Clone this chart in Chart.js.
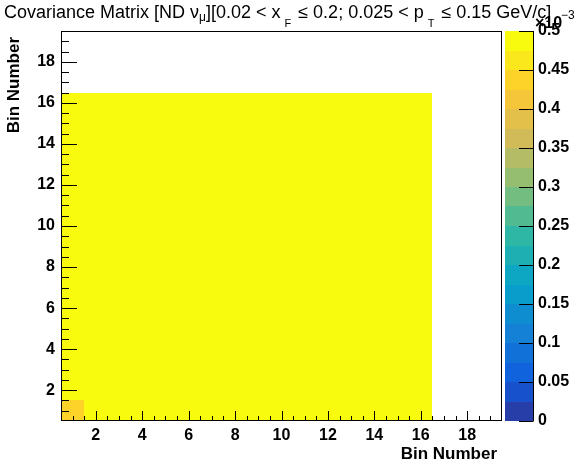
<!DOCTYPE html>
<html>
<head>
<meta charset="utf-8">
<script src="https://cdn.jsdelivr.net/npm/chart.js@4.4.0/dist/chart.umd.min.js"></script>
<style>
  html, body { margin: 0; padding: 0; background: #fff; }
  canvas { display: block; }
</style>
</head>
<body>
<canvas id="cov" width="578" height="466"></canvas>
<script>
// bin centres of the filled block
const xBins = [1, 2, 3, 4, 5, 6, 7, 8, 9, 10, 11, 12, 13, 14, 15, 16];
const yBins = [1, 2, 3, 4, 5, 6, 7, 8, 9, 10, 11, 12, 13, 14, 15, 16];

// covariance, units of 1e-3 ; row = y bin, column = x bin
const covRows = [
    [0.44, 0.50, 0.50, 0.50, 0.50, 0.50, 0.50, 0.50, 0.50, 0.50, 0.50, 0.50, 0.50, 0.50, 0.50, 0.50],
    [0.50, 0.50, 0.50, 0.50, 0.50, 0.50, 0.50, 0.50, 0.50, 0.50, 0.50, 0.50, 0.50, 0.50, 0.50, 0.50],
    [0.50, 0.50, 0.50, 0.50, 0.50, 0.50, 0.50, 0.50, 0.50, 0.50, 0.50, 0.50, 0.50, 0.50, 0.50, 0.50],
    [0.50, 0.50, 0.50, 0.50, 0.50, 0.50, 0.50, 0.50, 0.50, 0.50, 0.50, 0.50, 0.50, 0.50, 0.50, 0.50],
    [0.50, 0.50, 0.50, 0.50, 0.50, 0.50, 0.50, 0.50, 0.50, 0.50, 0.50, 0.50, 0.50, 0.50, 0.50, 0.50],
    [0.50, 0.50, 0.50, 0.50, 0.50, 0.50, 0.50, 0.50, 0.50, 0.50, 0.50, 0.50, 0.50, 0.50, 0.50, 0.50],
    [0.50, 0.50, 0.50, 0.50, 0.50, 0.50, 0.50, 0.50, 0.50, 0.50, 0.50, 0.50, 0.50, 0.50, 0.50, 0.50],
    [0.50, 0.50, 0.50, 0.50, 0.50, 0.50, 0.50, 0.50, 0.50, 0.50, 0.50, 0.50, 0.50, 0.50, 0.50, 0.50],
    [0.50, 0.50, 0.50, 0.50, 0.50, 0.50, 0.50, 0.50, 0.50, 0.50, 0.50, 0.50, 0.50, 0.50, 0.50, 0.50],
    [0.50, 0.50, 0.50, 0.50, 0.50, 0.50, 0.50, 0.50, 0.50, 0.50, 0.50, 0.50, 0.50, 0.50, 0.50, 0.50],
    [0.50, 0.50, 0.50, 0.50, 0.50, 0.50, 0.50, 0.50, 0.50, 0.50, 0.50, 0.50, 0.50, 0.50, 0.50, 0.50],
    [0.50, 0.50, 0.50, 0.50, 0.50, 0.50, 0.50, 0.50, 0.50, 0.50, 0.50, 0.50, 0.50, 0.50, 0.50, 0.50],
    [0.50, 0.50, 0.50, 0.50, 0.50, 0.50, 0.50, 0.50, 0.50, 0.50, 0.50, 0.50, 0.50, 0.50, 0.50, 0.50],
    [0.50, 0.50, 0.50, 0.50, 0.50, 0.50, 0.50, 0.50, 0.50, 0.50, 0.50, 0.50, 0.50, 0.50, 0.50, 0.50],
    [0.50, 0.50, 0.50, 0.50, 0.50, 0.50, 0.50, 0.50, 0.50, 0.50, 0.50, 0.50, 0.50, 0.50, 0.50, 0.50],
    [0.50, 0.50, 0.50, 0.50, 0.50, 0.50, 0.50, 0.50, 0.50, 0.50, 0.50, 0.50, 0.50, 0.50, 0.50, 0.50]
];

const xTicks = [2, 4, 6, 8, 10, 12, 14, 16, 18];
const yTicks = [2, 4, 6, 8, 10, 12, 14, 16, 18];
const zTicks = [0, 0.05, 0.1, 0.15, 0.2, 0.25, 0.3, 0.35, 0.4, 0.45, 0.5];
const zLabels = ['0', '0.05', '0.1', '0.15', '0.2', '0.25', '0.3', '0.35', '0.4', '0.45', '0.5'];

const AXIS_MIN = 0.5, AXIS_MAX = 19.5;
const NCONT = 20;
const FONT = '"Liberation Sans", Arial, Helvetica, sans-serif';

// ROOT kBird palette
const birdStops = [0.0, 0.125, 0.25, 0.375, 0.5, 0.625, 0.75, 0.875, 1.0];
const birdR = [0.2082, 0.0592, 0.0780, 0.0232, 0.1802, 0.5301, 0.8186, 0.9956, 0.9764];
const birdG = [0.1664, 0.3599, 0.5041, 0.6419, 0.7178, 0.7492, 0.7328, 0.7862, 0.9832];
const birdB = [0.5293, 0.8684, 0.8385, 0.7914, 0.6425, 0.4662, 0.3499, 0.1968, 0.0539];

function birdColor(f) {
    let k = 0;
    while (k < birdStops.length - 2 && f > birdStops[k + 1]) k++;
    const t = (f - birdStops[k]) / (birdStops[k + 1] - birdStops[k]);
    const c = arr => Math.round(255 * (arr[k] + (arr[k + 1] - arr[k]) * t));
    return `rgb(${c(birdR)},${c(birdG)},${c(birdB)})`;
}

// colour of contour band i, same index rule as THistPainter
function bandColor(i) {
    const idx = Math.floor((i + 0.99) * 255 / NCONT);
    return birdColor(idx / 254);
}

function valueColor(v, zmax) {
    let i = Math.floor(v / zmax * NCONT);
    if (i > NCONT - 1) i = NCONT - 1;
    if (i < 0) i = 0;
    return bandColor(i);
}

const cells = [];
covRows.forEach((row, j) => {
    row.forEach((v, i) => {
        cells.push({ x: xBins[i], y: yBins[j], v: v });
    });
});

// title pieces: 0 normal, 1 tight subscript, 2 spaced subscript
const titleParts = [
    ['Covariance Matrix [ND ν', 0],
    ['μ', 1],
    ['][0.02 < x', 0],
    ['F', 2],
    [' ≤ 0.2; 0.025 < p', 0],
    ['T', 2],
    [' ≤ 0.15 GeV/c]', 0]
];

const heatmap = {
    id: 'heatmap',
    beforeDatasetsDraw(chart) {
        const { ctx, chartArea: a, scales } = chart;
        const sx = scales.x, sy = scales.y;
        const zmax = zTicks[zTicks.length - 1];
        ctx.save();
        ctx.beginPath();
        ctx.rect(a.left, a.top, a.right - a.left, a.bottom - a.top);
        ctx.clip();
        chart.data.datasets[0].data.forEach(c => {
            if (!c.v) return;
            const x0 = Math.round(sx.getPixelForValue(c.x - 0.5));
            const x1 = Math.round(sx.getPixelForValue(c.x + 0.5));
            const y0 = Math.round(sy.getPixelForValue(c.y + 0.5));
            const y1 = Math.round(sy.getPixelForValue(c.y - 0.5));
            ctx.fillStyle = valueColor(c.v, zmax);
            ctx.fillRect(x0, y0, x1 - x0, y1 - y0);
        });
        ctx.restore();
    },
    afterDraw(chart) {
        const { ctx, chartArea: a, scales } = chart;
        const sx = scales.x, sy = scales.y, sz = scales.z;
        ctx.save();

        // frame
        ctx.strokeStyle = '#000';
        ctx.lineWidth = 1;
        ctx.strokeRect(Math.round(a.left) + 0.5, Math.round(a.top) + 0.5,
            Math.round(a.right - a.left) - 1, Math.round(a.bottom - a.top) - 1);

        // ticks pointing inwards
        ctx.beginPath();
        for (let v = 1; v <= 19; v += 0.5) {
            const major = xTicks.includes(v);
            const px = Math.round(sx.getPixelForValue(v)) + 0.5;
            ctx.moveTo(px, a.bottom);
            ctx.lineTo(px, a.bottom - (major ? 10 : 5));
            const py = Math.round(sy.getPixelForValue(v)) + 0.5;
            ctx.moveTo(a.left, py);
            ctx.lineTo(a.left + (major ? 16 : 8), py);
        }
        ctx.stroke();

        // colour bar
        const zmax = zTicks[zTicks.length - 1];
        const bx0 = Math.round(a.right) + 3, bx1 = Math.round(a.right) + 31;
        for (let i = 0; i < NCONT; i++) {
            const yTop = Math.round(sz.getPixelForValue((i + 1) * zmax / NCONT));
            const yBot = Math.round(sz.getPixelForValue(i * zmax / NCONT));
            ctx.fillStyle = bandColor(i);
            ctx.fillRect(bx0, yTop, bx1 - bx0, yBot - yTop);
        }
        ctx.beginPath();
        ctx.moveTo(bx1 + 0.5, a.top);
        ctx.lineTo(bx1 + 0.5, a.bottom);
        zTicks.forEach(v => {
            const py = Math.round(sz.getPixelForValue(v)) + 0.5;
            ctx.moveTo(bx1 + 0.5, py);
            ctx.lineTo(bx1 - 14, py);
        });
        ctx.stroke();

        // exponent of the colour axis
        ctx.fillStyle = '#000';
        ctx.textBaseline = 'alphabetic';
        ctx.textAlign = 'left';
        ctx.font = `bold 16px ${FONT}`;
        ctx.fillText('×10', 535, 28);
        ctx.font = `12px ${FONT}`;
        ctx.fillText('−3', 561, 19);

        // axis titles
        ctx.font = `bold 17px ${FONT}`;
        ctx.textAlign = 'right';
        ctx.textBaseline = 'middle';
        ctx.fillText('Bin Number', 497, 454);
        ctx.save();
        ctx.translate(14, 37);
        ctx.rotate(-Math.PI / 2);
        ctx.fillText('Bin Number', 0, 0);
        ctx.restore();

        // main title
        ctx.textAlign = 'left';
        ctx.textBaseline = 'alphabetic';
        let tx = 4;
        titleParts.forEach(([text, kind]) => {
            if (kind === 0) {
                ctx.font = `18px ${FONT}`;
                ctx.fillText(text, tx, 18);
                tx += ctx.measureText(text).width;
            } else if (kind === 1) {
                ctx.font = `12px ${FONT}`;
                ctx.fillText(text, tx, 21);
                tx += ctx.measureText(text).width;
            } else {
                ctx.font = `11px ${FONT}`;
                tx += 4;
                ctx.fillText(text, tx, 27);
                tx += ctx.measureText(text).width + 2;
            }
        });

        ctx.restore();
    }
};

const tickFont = { family: FONT, size: 16, weight: 'bold' };

// no extra room for labels that hang over the plot edges
function noOverhang(s) {
    s.paddingTop = 0;
    s.paddingBottom = 0;
    s.paddingLeft = 0;
    s.paddingRight = 0;
}

new Chart(document.getElementById('cov'), {
    type: 'scatter',
    data: {
        datasets: [{ data: cells, pointRadius: 0, pointHoverRadius: 0 }]
    },
    options: {
        responsive: false,
        animation: false,
        devicePixelRatio: 1,
        events: [],
        layout: { padding: { top: 31, left: 0, right: 0, bottom: 0 } },
        plugins: {
            legend: { display: false },
            tooltip: { enabled: false },
            title: { display: false }
        },
        scales: {
            x: {
                type: 'linear',
                position: 'bottom',
                min: AXIS_MIN,
                max: AXIS_MAX,
                grid: { display: false, drawTicks: false },
                border: { display: false },
                afterBuildTicks: s => { s.ticks = xTicks.map(v => ({ value: v })); },
                afterFit: s => { s.height = 45; noOverhang(s); },
                ticks: { autoSkip: false, maxRotation: 0, padding: 5, color: '#000', font: tickFont }
            },
            y: {
                type: 'linear',
                position: 'left',
                min: AXIS_MIN,
                max: AXIS_MAX,
                grid: { display: false, drawTicks: false },
                border: { display: false },
                afterBuildTicks: s => { s.ticks = yTicks.map(v => ({ value: v })); },
                afterFit: s => { s.width = 61; noOverhang(s); },
                ticks: { autoSkip: false, padding: 6, color: '#000', font: tickFont }
            },
            z: {
                type: 'linear',
                axis: 'y',
                position: 'right',
                min: 0,
                max: 0.5,
                grid: { display: false, drawTicks: false },
                border: { display: false },
                afterBuildTicks: s => { s.ticks = zTicks.map(v => ({ value: v })); },
                afterFit: s => { s.width = 76; noOverhang(s); },
                ticks: {
                    autoSkip: false,
                    padding: 36,
                    color: '#000',
                    font: tickFont,
                    callback: (v, i) => zLabels[i]
                }
            }
        }
    },
    plugins: [heatmap]
});
</script>
</body>
</html>
